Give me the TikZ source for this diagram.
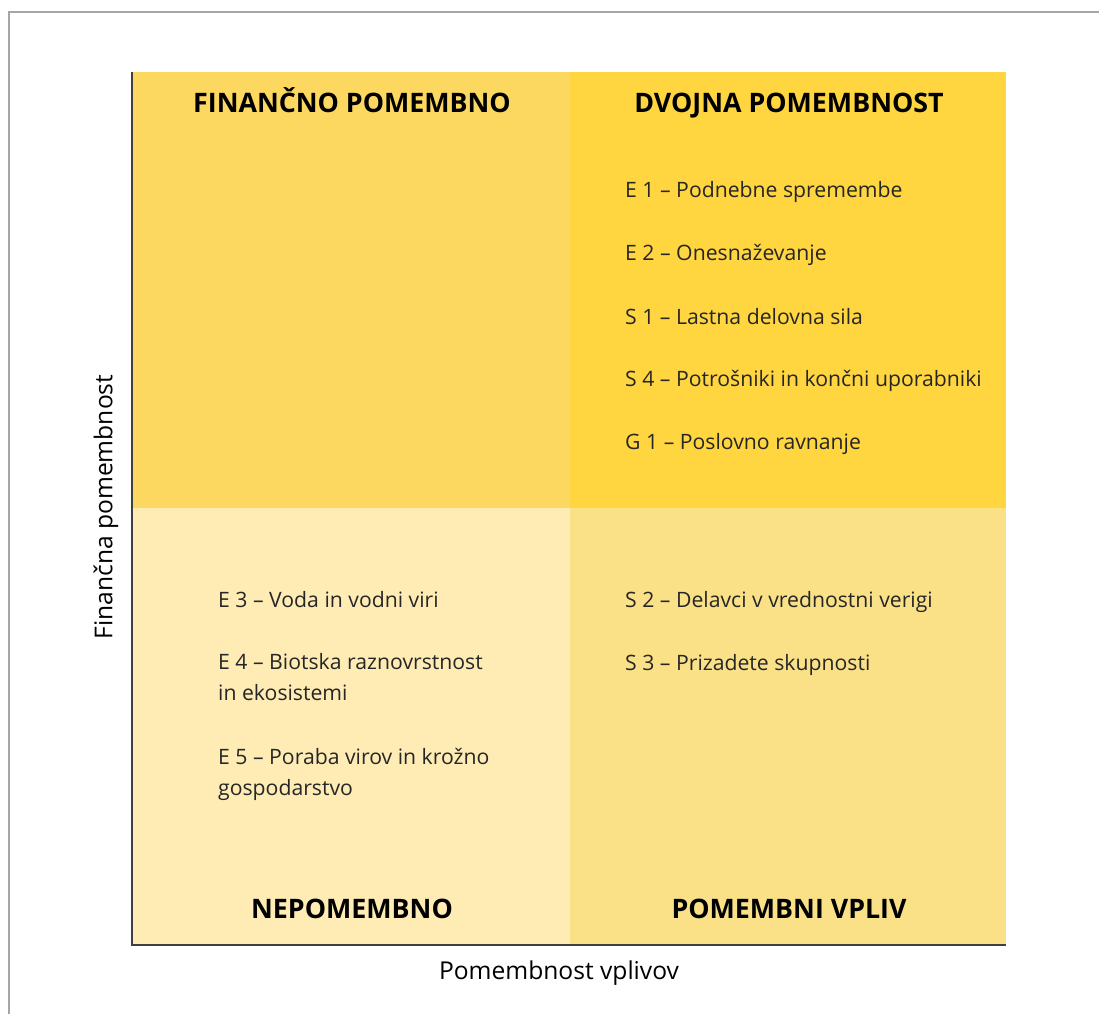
\documentclass[tikz,border=0pt]{standalone}
\usepackage{fontspec}
\setmainfont{Open Sans}
\usepackage{tikz}

\definecolor{finq}{RGB}{253,216,96}
\definecolor{dvoq}{RGB}{255,213,64}
\definecolor{nepq}{RGB}{254,236,180}
\definecolor{vplq}{RGB}{250,225,135}
\definecolor{axisgray}{RGB}{64,64,64}
\definecolor{itemtext}{RGB}{38,38,38}

\tikzset{
  head/.style={font=\fontsize{26.8}{30}\selectfont\bfseries, text=black, inner sep=0pt, text height=19pt, text depth=0pt},
  item/.style={font=\fontsize{21.2}{31}\selectfont, text=itemtext, anchor=west, align=left, inner sep=0pt},
  oneline/.style={item, text height=16pt, text depth=5pt},
  axlabel/.style={font=\fontsize{24.6}{28}\selectfont, text=black, inner sep=0pt}
}

\begin{document}
\begin{tikzpicture}[x=1pt,y=-1pt]
			\useasboundingbox (0,0) rectangle (1099,1014);
			% frame
			\draw[gray!70,line width=1.5pt] (9,1014) -- (9,12) -- (1099,12);

			% quadrants
			\fill[finq] (132,72) rectangle (570,508);
			\fill[dvoq] (570,72) rectangle (1006,508);
			\fill[nepq] (132,508) rectangle (570,945);
			\fill[vplq] (570,508) rectangle (1006,945);

			% axes
			\coordinate (top) at (132,72);
			\coordinate (origin) at (132,945);
			\coordinate (right) at (1006,945);
			\draw[axisgray,line width=2pt] (top) -- (origin) -- (right);
			\node[axlabel] (xlab) at (559,973) {Pomembnost vplivov};
			\node[axlabel,rotate=90] (ylab) at (106,507) {Finančna pomembnost};

			% headings
			\node[head] (fin) at (352,103) {FINANČNO POMEMBNO};
			\node[head] (dvo) at (789,103) {DVOJNA POMEMBNOST};
			\node[head] (nep) at (352,909) {NEPOMEMBNO};
			\node[head] (vpl) at (789,909) {POMEMBNI VPLIV};

			% dvojna pomembnost
			\node[oneline] (e1) at (625,191.5) {E 1 – Podnebne spremembe};
			\node[oneline] (e2) at (625,254.5) {E 2 – Onesnaževanje};
			\node[oneline] (s1) at (625,318.5) {S 1 – Lastna delovna sila};
			\node[oneline] (s4) at (625,380.5) {S 4 – Potrošniki in končni uporabniki};
			\node[oneline] (g1) at (625,443.5) {G 1 – Poslovno ravnanje};

			% pomembni vpliv
			\node[oneline] (s2) at (625,601.5) {S 2 – Delavci v vrednostni verigi};
			\node[oneline] (s3) at (625,664.5) {S 3 – Prizadete skupnosti};

			% nepomembno
			\node[oneline] (e3) at (218,601.5) {E 3 – Voda in vodni viri};
			\node[item] (e4) at (218,677) {E 4 – Biotska raznovrstnost\\in ekosistemi};
			\node[item] (e5) at (218,774) {E 5 – Poraba virov in krožno\\gospodarstvo};
		\end{tikzpicture}
\end{document}
